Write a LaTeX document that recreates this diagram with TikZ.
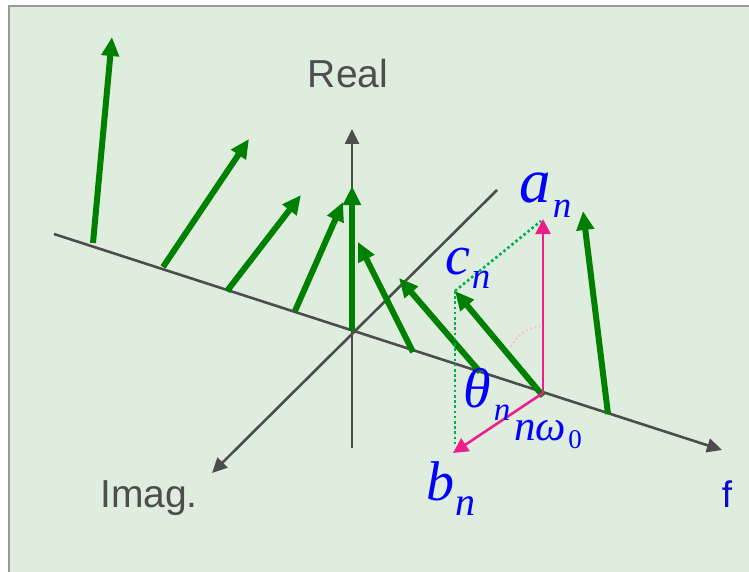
\documentclass[tikz,border=0pt]{standalone}
\usepackage{fontspec}
\setmainfont{Liberation Serif}
\setsansfont{Liberation Sans}
\usetikzlibrary{arrows.meta}
\definecolor{bgc}{RGB}{223,237,223}
\definecolor{framec}{RGB}{155,155,155}
\definecolor{axisc}{RGB}{77,77,77}
\definecolor{vecc}{RGB}{0,128,0}
\definecolor{dotc}{RGB}{0,176,80}
\definecolor{pinkc}{RGB}{236,30,140}
\definecolor{lpinkc}{RGB}{255,190,200}
\definecolor{labc}{RGB}{0,0,255}
\definecolor{fc}{RGB}{10,10,205}
\tikzset{
  axisline/.style={draw=axisc, line width=2.6pt, -{Triangle[length=15pt,width=14pt]}},
  vec/.style={draw=vecc, line width=6pt, -{Triangle[length=19pt,width=17pt]}},
  pinkvec/.style={draw=pinkc, line width=2.6pt, -{Triangle[length=15pt,width=15pt]}},
  dotline/.style={draw=dotc, line width=2.6pt, dash pattern=on 2.6pt off 2.6pt},
  axlab/.style={font=\sffamily\fontsize{39}{39}\selectfont, text=axisc, inner sep=0pt, anchor=base},
  biglab/.style={font=\itshape\fontsize{#1}{#1}\selectfont, text=labc, inner sep=0pt, anchor=base},
}
\begin{document}
\begin{tikzpicture}[x=1pt,y=-1pt]
\useasboundingbox (0,0) rectangle (749,572);
\fill[white] (0,0) rectangle (749,572);
\fill[bgc] (9,6) rectangle (770,590);
\draw[framec, line width=2.6pt] (770,6) -- (9,6) -- (9,590);

% axes
\coordinate (O) at (352,332);
\coordinate (fL) at (54,234);
\coordinate (fR) at (722,450);
\coordinate (rB) at (352,448);
\coordinate (rT) at (352,129);
\coordinate (iT) at (497,190);
\coordinate (iB) at (212,473);
\draw[axisline] (fL) -- (fR);
\draw[axisline] (rB) -- (rT);
\draw[axisline] (iT) -- (iB);

\node[axlab] (real) at (348,88) {Real};
\node[axlab] (imag) at (149,507) {Imag.};
\node[font=\sffamily\fontsize{37}{37}\selectfont, text=fc, inner sep=0pt, anchor=base] (flab) at (727,507) {f};

% green vectors
\coordinate (b1) at (93,243);  \coordinate (t1) at (112,37);
\coordinate (b2) at (163,267); \coordinate (t2) at (249,139);
\coordinate (b3) at (227,291); \coordinate (t3) at (301,195);
\coordinate (b4) at (295,311); \coordinate (t4) at (343,202);
\coordinate (b5) at (352,331); \coordinate (t5) at (352,186);
\coordinate (b6) at (413,352); \coordinate (t6) at (358,242);
\coordinate (b7) at (480,372); \coordinate (t7) at (399,278);
\coordinate (b8) at (543,396); \coordinate (t8) at (455,291);
\coordinate (b9) at (608,414); \coordinate (t9) at (583,211);
\foreach \i in {1,...,9} { \draw[vec] (b\i) -- (t\i); }

% projections
\coordinate (pa) at (541,221);
\coordinate (pb) at (455,444);
\draw[dotline] (t8) -- (pa);
\draw[dotline] (t8) -- (pb);

\coordinate (B) at (543,393);
\coordinate (A) at (543,219);
\coordinate (Bn) at (453,453);
\draw[pinkvec] (B) -- (A);
\draw[pinkvec] (B) -- (Bn);
\coordinate (arcS) at (511,347);
\coordinate (arcE) at (542,326);
\draw[lpinkc, line width=2pt, dash pattern=on 2pt off 2.5pt] (arcS) .. controls (518,333) and (530,327) .. (arcE);

% labels
\node[biglab=63] (an) at (535,203) {a};
\node[biglab=37] (ann) at (562,218) {n};
\node[biglab=56] (cn) at (458,274) {c};
\node[biglab=37] (cnn) at (481,288) {n};
\node[biglab=56] (th) at (477,407) {θ};
\node[biglab=33] (thn) at (502,420) {n};
\node[biglab=56] (bn) at (440,500) {b};
\node[biglab=40] (bnn) at (465,515) {n};
\node[biglab=43] (nw) at (540,440) {nω};
\node[font=\fontsize{27}{27}\selectfont, text=labc, inner sep=0pt, anchor=base] (nw0) at (575,448) {0};
\end{tikzpicture}
\end{document}
